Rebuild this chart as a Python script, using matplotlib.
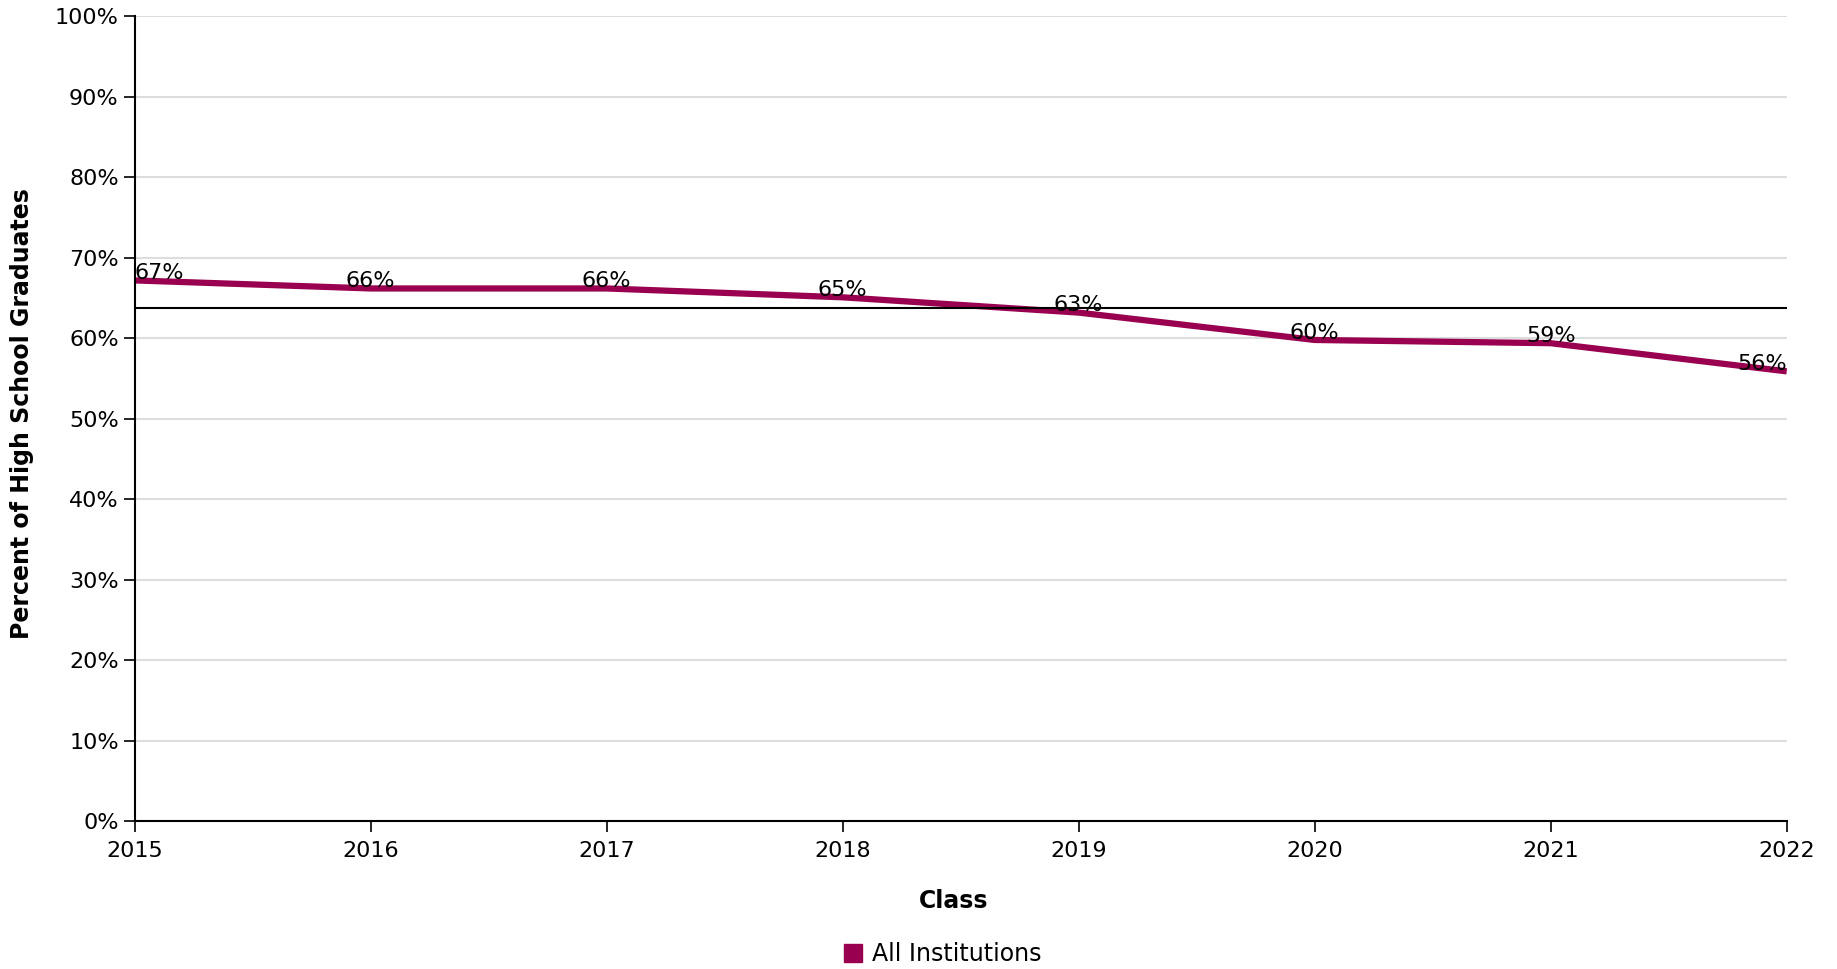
import numpy as np
import matplotlib.pyplot as plt
from matplotlib.ticker import FuncFormatter, MultipleLocator
from matplotlib.lines import Line2D

# Data
years = [2015, 2016, 2017, 2018, 2019, 2020, 2021, 2022]
pct = [67.2, 66.2, 66.2, 65.1, 63.2, 59.8, 59.4, 55.9]
labels = ["67%", "66%", "66%", "65%", "63%", "60%", "59%", "56%"]
ref_line = 63.8
series_name = "All Institutions"

color = '#990050'
plt.rcParams['font.family'] = 'DejaVu Sans'

fig = plt.figure(figsize=(18.37, 9.69), dpi=100)
ax = fig.add_axes([134.7/1837, 1 - 821.3/969, (1786.7-134.7)/1837, (821.3-16.4)/969])

ax.plot(years, pct, color=color, linewidth=4.5, zorder=3, solid_capstyle='butt')
ax.axhline(ref_line, color='k', linewidth=1.5, zorder=4)

for i, (x, y, lab) in enumerate(zip(years, pct, labels)):
    ha = 'center'
    if i == 0:
        ha = 'left'
    elif i == len(years) - 1:
        ha = 'right'
    ax.annotate(lab, (x, y), xytext=(0, -2), textcoords='offset points',
                ha=ha, va='bottom', fontsize=16, zorder=5)

ax.set_xlim(years[0], years[-1])
ax.set_ylim(0, 100)
ax.set_xticks(years)
ax.yaxis.set_major_locator(MultipleLocator(10))
ax.yaxis.set_major_formatter(FuncFormatter(lambda v, p: "{0:.0f}%".format(v)))
ax.grid(axis='y', color='#dddddd', linewidth=1.5, zorder=0)
ax.set_axisbelow(True)

for s in ['top', 'right']:
    ax.spines[s].set_visible(False)
for s in ['left', 'bottom']:
    ax.spines[s].set_linewidth(1.5)
    ax.spines[s].set_zorder(6)
ax.tick_params(axis='both', direction='out', length=8, width=1.2, labelsize=16)
ax.tick_params(axis='x', pad=6)

ax.set_xlabel("Class", fontsize=17, fontweight='bold')
ax.set_ylabel("Percent of High School Graduates", fontsize=17, fontweight='bold')
ax.xaxis.set_label_coords(0.4958, -0.099)
ax.yaxis.set_label_coords(-0.068, 0.507)
ax.xaxis.label.set_va('center')
ax.yaxis.label.set_va('center')

handle = Line2D([], [], marker='s', linestyle='none', markersize=12.7,
                markerfacecolor=color, markeredgecolor=color)
fig.legend([handle], [series_name], loc='center', bbox_to_anchor=(941/1837, 1 - 954/969),
           frameon=False, fontsize=17, handletextpad=0.3, handlelength=1.0)

fig.savefig('out.png', dpi=100)
